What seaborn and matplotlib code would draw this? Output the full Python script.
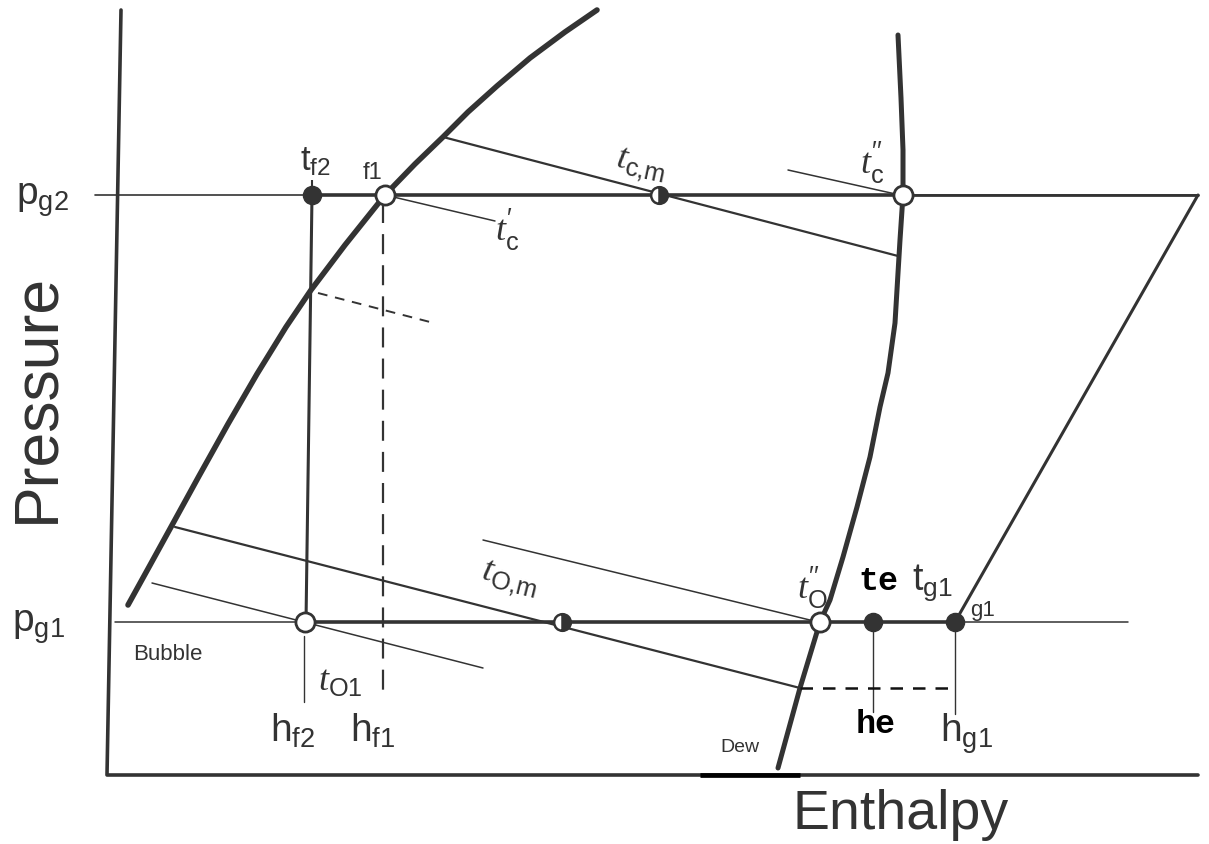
import numpy as np
import matplotlib
matplotlib.use("Agg")
import matplotlib.pyplot as plt
import seaborn as sns

# schematic p-h diagram, coordinates in image pixels (y grows downward)
W, H = 1209, 844
P_G2 = 195
P_G1 = 622

bubble_x = [128, 149, 171, 199, 228, 257, 286, 311, 345, 385, 415, 443, 468, 497, 530, 565, 597]
bubble_y = [605, 567, 527, 476, 424, 374, 327, 290, 245, 195, 164, 137, 112, 86, 58, 32, 10]

dew_x = [898, 901, 903, 903, 900, 898, 895, 888, 880, 870, 857, 843, 830, 820, 800, 778]
dew_y = [35, 98, 150, 195, 240, 273, 323, 373, 407, 457, 507, 557, 600, 622, 688, 768]

axis_x = [121, 107, 1198]
axis_y = [10, 775, 775]

comp_x = [955, 1198]
comp_y = [P_G1, P_G2]

# isotherms: start / end points and widths
iso_x0 = [443, 385, 788, 175, 152, 483]
iso_y0 = [137, 195, 170, 527, 583, 540]
iso_x1 = [898, 495, 900, 800, 483, 818]
iso_y1 = [256, 221, 195, 688, 668, 622]
iso_lw = [1.6, 1.1, 1.1, 1.6, 1.1, 1.1]

h_f2_x = [312, 306]
h_f1_x = 383
h_e_x = 873
h_g1_x = 955
h_low_y = 688

open_x = [385, 903, 305, 820]
open_y = [P_G2, P_G2, P_G1, P_G1]
filled_x = [312, 873, 955]
filled_y = [P_G2, P_G1, P_G1]
half_x = [659, 562]
half_y = [P_G2, P_G1]

INK = "#333333"

sns.set_theme(style="white")
plt.rcParams["font.family"] = ["Liberation Sans", "DejaVu Sans"]
plt.rcParams["mathtext.fontset"] = "custom"
plt.rcParams["mathtext.rm"] = "Liberation Sans"
plt.rcParams["mathtext.it"] = "Liberation Serif:italic"
plt.rcParams["mathtext.default"] = "regular"

fig = plt.figure(figsize=(W / 100, H / 100), dpi=100)
ax = fig.add_axes([0, 0, 1, 1])
ax.set_xlim(0, W)
ax.set_ylim(H, 0)
ax.axis("off")

# frame (pressure / enthalpy axes)
sns.lineplot(x=axis_x, y=axis_y, sort=False, estimator=None, color=INK,
             lw=2.6, ax=ax)
ax.plot([700, 800], [775, 775], color="black", lw=3.4, solid_capstyle="butt")

# pressure levels
ax.plot([95, 1198], [P_G2, P_G2], color=INK, lw=1.2)
ax.plot([312, 903], [P_G2, P_G2], color=INK, lw=2.6)
ax.plot([903, 1198], [P_G2, P_G2], color=INK, lw=2.0)
ax.plot([115, 1128], [P_G1, P_G1], color=INK, lw=1.1)
ax.plot([305, 955], [P_G1, P_G1], color=INK, lw=2.6)

# saturation curves
sns.lineplot(x=bubble_x, y=bubble_y, sort=False, estimator=None, color=INK,
             lw=4.0, ax=ax)
sns.lineplot(x=dew_x, y=dew_y, sort=False, estimator=None, color=INK,
             lw=3.6, ax=ax)
sns.lineplot(x=comp_x, y=comp_y, sort=False, estimator=None, color=INK,
             lw=2.2, ax=ax)

for x0, y0, x1, y1, lw in zip(iso_x0, iso_y0, iso_x1, iso_y1, iso_lw):
    ax.plot([x0, x1], [y0, y1], color=INK, lw=lw)

# verticals
ax.plot([312, 312], [180, P_G2], color=INK, lw=1.5, ls=(0, (4, 3)))
ax.plot(h_f2_x, [P_G2, P_G1], color=INK, lw=2.2)
ax.plot([304, 304], [636, 702], color=INK, lw=1.0)
ax.plot([h_f1_x, h_f1_x], [203, 694], color=INK, lw=1.6, ls=(0, (9, 5)))
ax.plot([318, 430], [293, 322], color=INK, lw=1.4, ls=(0, (5, 4)))
ax.plot([h_e_x, h_e_x], [P_G1, 712], color=INK, lw=1.0)
ax.plot([h_g1_x, h_g1_x], [P_G1, 714], color=INK, lw=1.0)
ax.plot([800, h_g1_x], [h_low_y, h_low_y], color="#111111", lw=1.8, ls=(0, (5, 4)))

# state points
sns.scatterplot(x=open_x, y=open_y, s=190, color="white", edgecolor=INK,
                linewidth=2.0, zorder=5, ax=ax)
sns.scatterplot(x=filled_x, y=filled_y, s=170, color=INK, edgecolor=INK,
                linewidth=1.0, zorder=5, ax=ax)
for x, y in zip(half_x, half_y):
    ax.plot(x, y, marker="o", ms=12, fillstyle="right", color=INK,
            markerfacecoloralt="white", mec=INK, mew=1.8, zorder=5)

# axis names and pressure levels
ax.text(16, 205, "$p_{g2}$", fontsize=28, va="baseline", color=INK)
ax.text(12, 632, "$p_{g1}$", fontsize=28, va="baseline", color=INK)
ax.text(37, 398, "Pressure", fontsize=45, rotation=90, ha="center",
        va="center", color=INK)
ax.text(901, 815, "Enthalpy", fontsize=40, ha="center", va="center", color=INK)

# upper (condensing) side
ax.text(300, 170, "$t_{f2}$", fontsize=25, va="baseline", color=INK)
ax.text(363, 179, "f1", fontsize=17, va="baseline", color=INK)
ax.text(507, 230, r"$\mathit{t}_{c}^{\prime}$", fontsize=26, ha="center",
        va="center", color=INK)
ax.text(641, 166, r"$\mathit{t}_{c{,}m}$", fontsize=26, ha="center",
        va="center", rotation=-12, color=INK)
ax.text(872, 163, r"$\mathit{t}_{c}^{\prime\prime}$", fontsize=26, ha="center",
        va="center", color=INK)

# lower (evaporating) side
ax.text(133, 660, "Bubble", fontsize=16, va="baseline", color=INK)
ax.text(340, 681, r"$\mathit{t}_{O1}$", fontsize=26, ha="center", va="center",
        color=INK)
ax.text(509, 580, r"$\mathit{t}_{O{,}m}$", fontsize=26, ha="center",
        va="center", rotation=-14, color=INK)
ax.text(812, 588, r"$\mathit{t}_{O}^{\prime\prime}$", fontsize=26, ha="center",
        va="center", color=INK)
ax.text(858, 590, "te", fontsize=24, va="baseline", color="black",
        family="Liberation Mono", weight="bold")
ax.text(912, 590, "$t_{g1}$", fontsize=27, va="baseline", color=INK)
ax.text(970, 616, "g1", fontsize=16, va="baseline", color=INK)

ax.text(270, 742, "$h_{f2}$", fontsize=28, va="baseline", color=INK)
ax.text(350, 742, "$h_{f1}$", fontsize=28, va="baseline", color=INK)
ax.text(856, 733, "he", fontsize=24, va="baseline", color="black",
        family="Liberation Mono", weight="bold")
ax.text(940, 742, "$h_{g1}$", fontsize=28, va="baseline", color=INK)
ax.text(720, 752, "Dew", fontsize=14, va="baseline", color=INK)

fig.savefig("out.png", dpi=100, facecolor="white")
